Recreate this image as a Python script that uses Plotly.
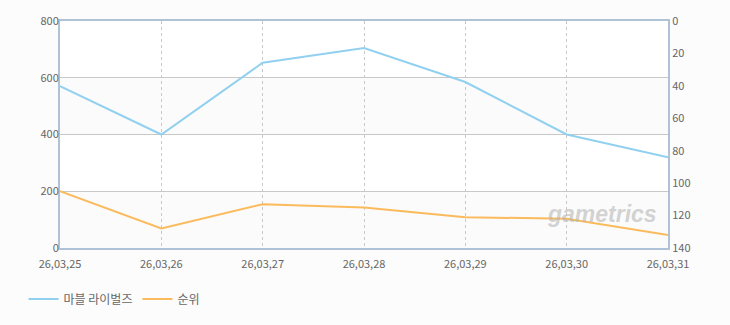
import plotly.graph_objects as go

dates = ["26,03,25", "26,03,26", "26,03,27", "26,03,28", "26,03,29", "26,03,30", "26,03,31"]
users = [570, 400, 653, 705, 585, 400, 320]
rank = [105, 128, 113, 115, 121, 122, 132]
left_ticks = [0, 200, 400, 600, 800]
right_ticks = [0, 20, 40, 60, 80, 100, 120, 140]

xs = list(range(len(dates)))
fig = go.Figure()
fig.add_trace(go.Scatter(x=xs, y=users, name="마블 라이벌즈", mode="lines",
                         line=dict(color="#92d0f0", width=2), yaxis="y"))
fig.add_trace(go.Scatter(x=xs, y=rank, name="순위", mode="lines",
                         line=dict(color="#fbbb5c", width=2), yaxis="y2"))

# alternating bands
for lo, hi in [(0, 200), (400, 600)]:
    fig.add_shape(type="rect", xref="paper", yref="y", x0=0, x1=1, y0=lo, y1=hi,
                  fillcolor="#fbfbfb", line=dict(width=0), layer="below")

fig.add_annotation(text="<i><b>gametrics</b></i>", xref="paper", yref="paper",
                   x=0.985, y=0.085, xanchor="right", showarrow=False,
                   font=dict(family="Liberation Sans", size=23, color="rgba(175,175,175,0.55)"))

font = dict(family="Noto Sans CJK KR, DejaVu Sans", size=11, color="#666666")
fig.update_layout(
    width=730, height=325,
    margin=dict(l=60, r=62, t=17, b=77),
    paper_bgcolor="#fcfcfc", plot_bgcolor="#ffffff",
    font=font,
    showlegend=True,
    legend=dict(orientation="h", x=-0.06, y=-0.225, xanchor="left", yanchor="middle",
                font=dict(family="Noto Sans CJK KR", size=12, color="#666666"),
                bgcolor="rgba(0,0,0,0)", itemwidth=30),
    xaxis=dict(range=[0, 6], tickvals=xs, ticktext=dates, showgrid=True,
               gridcolor="#c8c8c8", griddash="3px,3px", gridwidth=1,
               showline=True, linecolor="#b0c2d6", linewidth=2, mirror=True,
               zeroline=False, ticks="outside", ticklen=5, tickcolor="rgba(0,0,0,0)",
               tickfont=font),
    yaxis=dict(range=[0, 800], tickvals=left_ticks, showgrid=True, gridcolor="#c8c8c8",
               gridwidth=1, showline=True, linecolor="#b0c2d6", linewidth=2, mirror=True,
               zeroline=False, ticks="", tickfont=font, ticklabelstandoff=-3),
    yaxis2=dict(range=[140, 0], tickvals=right_ticks, overlaying="y", side="right",
                showgrid=False, showline=True, linecolor="#b0c2d6", linewidth=2,
                zeroline=False, ticks="", tickfont=font),
)
fig.write_html("out.html")
